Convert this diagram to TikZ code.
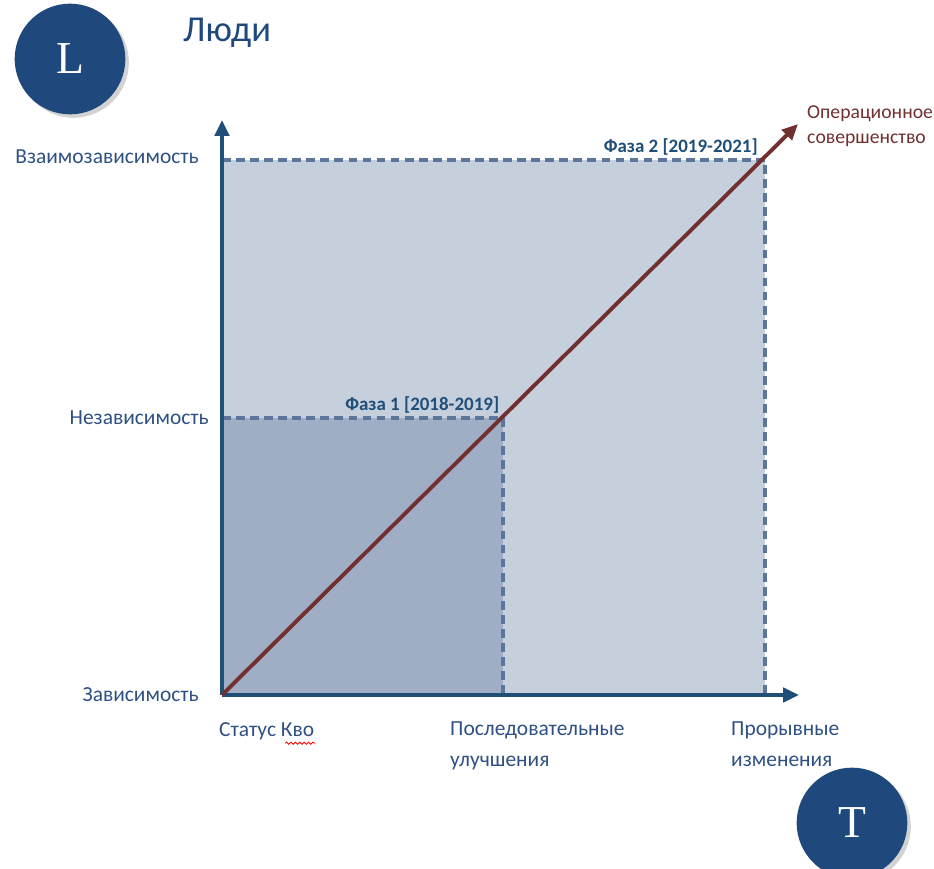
\documentclass[tikz,border=0pt]{standalone}
\usepackage{fontspec}
\setmainfont{Carlito}
\newfontfamily\letterfont{Liberation Serif}
\usetikzlibrary{arrows.meta,shadows,decorations.pathmorphing}
\definecolor{axisblue}{HTML}{1F4E79}
\definecolor{dashblue}{HTML}{5B769A}
\definecolor{textblue}{HTML}{2E5083}
\definecolor{outerfill}{HTML}{C6D0DD}
\definecolor{innerfill}{HTML}{9FAEC5}
\definecolor{diagred}{HTML}{722F2F}
\definecolor{circleblue}{HTML}{1F497D}
\tikzset{
  axis/.style={draw=axisblue, line width=2.3pt, -{Triangle[length=9pt,width=8pt]}},
  phaseline/.style={draw=dashblue, line width=1.9pt, dash pattern=on 5pt off 3pt},
  lbl/.style={text=textblue, font=\fontsize{12.2}{17.6}\selectfont, align=left},
  phaselbl/.style={text=axisblue, font=\fontsize{10.8}{12}\selectfont\bfseries, anchor=south east, inner sep=2pt},
  badge/.style={circle, fill=circleblue, minimum size=63pt, inner sep=0pt, text=white,
    font=\letterfont\fontsize{26}{26}\selectfont, drop shadow={opacity=0.35, shadow xshift=2pt, shadow yshift=-2pt}}
}
\begin{document}
\begin{tikzpicture}[x=0.02cm, y=-0.02cm]
  \useasboundingbox (0,0) rectangle (934,869);
  \fill[outerfill] (222,160) rectangle (765,695);
  \fill[innerfill] (222,418) rectangle (503,695);

  \coordinate (O) at (222,695);
  \coordinate (ytop) at (222,120);
  \coordinate (xend) at (799,695);
  \coordinate (p1) at (503,418);
  \coordinate (p2) at (765,160);
  \coordinate (tip) at (798,124);

  \draw[phaseline] (O |- p1) -- (p1) -- (p1 |- O);
  \draw[phaseline] (O |- p2) -- (p2) -- (p2 |- O);
  \draw[axis] (O) -- (ytop);
  \draw[axis] (O) -- (xend);
  \draw[draw=diagred, line width=2.2pt, -{Triangle[length=9pt,width=8pt]}] (O) -- (tip);

  \node[badge] (L) at (70,59) {L};
  \node[badge] (T) at (852,823) {T};
  \node[text=circleblue, font=\fontsize{20.8}{22}\selectfont, anchor=west] (title) at (177,33) {Люди};

  \node[lbl, anchor=east] (interdep) at (205,157) {Взаимозависимость};
  \node[lbl, anchor=east] (indep) at (215,418) {Независимость};
  \node[lbl, anchor=east] (dep) at (205,695) {Зависимость};

  \node[lbl, anchor=north west] (status) at (213,716) {Статус Кво};
  \node[lbl, anchor=north west] (steps) at (444,716) {Последовательные\\улучшения};
  \node[lbl, anchor=north west] (breaks) at (725,716) {Прорывные\\изменения};
  \draw[red, line width=0.5pt, decorate, decoration={snake, amplitude=0.6pt, segment length=2.5pt}]
    ([xshift=-20pt, yshift=-7pt]status.east) -- ([xshift=-3pt, yshift=-7pt]status.east);

  \node[phaselbl] (ph1) at ([yshift=0.5pt]p1) {Фаза 1 [2018-2019]};
  \node[phaselbl] (ph2) at ([xshift=-2pt, yshift=0.5pt]p2) {Фаза 2 [2019-2021]};
  \node[text=diagred, font=\fontsize{11.2}{14.2}\selectfont, align=left, anchor=west] (goal) at (801,126) {Операционное\\совершенство};
\end{tikzpicture}
\end{document}
